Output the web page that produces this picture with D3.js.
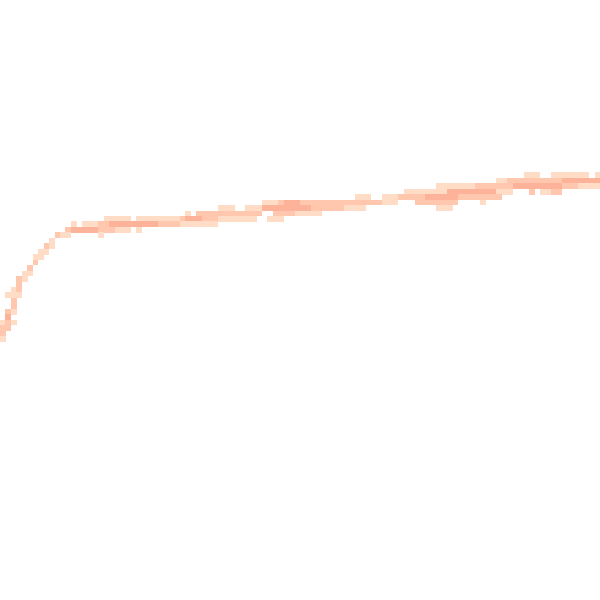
<!DOCTYPE html>
<html>
<head>
<meta charset="utf-8">
<script src="https://cdn.jsdelivr.net/npm/d3@7"></script>
<style>
  html, body { margin: 0; padding: 0; background: #fff; }
  #chart { width: 600px; height: 600px; }
</style>
</head>
<body>
<div id="chart"></div>
<script>
// grid size (cells per side)
const gridCols = 110;
const gridRows = 110;

// density levels: 1 = light, 2 = medium, 3 = dense
const levels = [1, 2, 3];
const levelColors = ["#ffdcc6", "#fec7ae", "#fcb399"];

// each entry: [column, first row, level per row going down ("0" = empty)]
const bands = [
  [0, 59, "1221"], [1, 54, "1002322"], [2, 53, "1122101"], [3, 51, "2221"],
  [4, 50, "11"], [5, 49, "21"], [6, 47, "12"], [7, 46, "11"],
  [8, 45, "21"], [9, 44, "11"], [10, 43, "2"], [11, 43, "1"],
  [12, 42, "21"], [13, 41, "13"], [14, 42, "3"], [15, 41, "13"],
  [16, 41, "13"], [17, 41, "13"], [18, 41, "221"], [19, 40, "122"],
  [20, 40, "132"], [21, 40, "131"], [22, 40, "131"], [23, 40, "131"],
  [24, 41, "3"], [25, 40, "131"], [26, 40, "13"], [27, 40, "13"],
  [28, 40, "13"], [29, 40, "12"], [30, 40, "12"], [31, 40, "12"],
  [32, 40, "12"], [33, 40, "21"], [34, 39, "131"], [35, 40, "31"],
  [36, 39, "231"], [37, 39, "221"], [38, 39, "221"], [39, 39, "221"],
  [40, 38, "121"], [41, 38, "121"], [42, 38, "121"], [43, 39, "21"],
  [44, 39, "21"], [45, 38, "121"], [46, 38, "121"], [47, 38, "12"],
  [48, 37, "13"], [49, 37, "1301"], [50, 37, "1321"], [51, 37, "2321"],
  [52, 37, "332"], [53, 37, "332"], [54, 37, "331"], [55, 37, "231"],
  [56, 37, "231"], [57, 37, "221"], [58, 37, "221"], [59, 37, "22"],
  [60, 37, "22"], [61, 37, "22"], [62, 37, "22"], [63, 37, "21"],
  [64, 37, "21"], [65, 36, "121"], [66, 36, "121"], [67, 36, "12"],
  [68, 37, "2"], [69, 37, "2"], [70, 36, "11"], [71, 36, "11"],
  [72, 36, "11"], [73, 36, "2"], [74, 35, "12"], [75, 35, "12"],
  [76, 35, "122"], [77, 35, "122"], [78, 35, "132"], [79, 35, "132"],
  [80, 34, "11321"], [81, 34, "11321"], [82, 34, "13321"], [83, 34, "1332"],
  [84, 34, "132"], [85, 34, "132"], [86, 34, "132"], [87, 34, "232"],
  [88, 34, "2321"], [89, 34, "232"], [90, 34, "232"], [91, 33, "1212"],
  [92, 33, "121"], [93, 33, "221"], [94, 33, "23"], [95, 33, "23"],
  [96, 32, "123"], [97, 32, "1232"], [98, 32, "123"], [99, 33, "231"],
  [100, 33, "231"], [101, 32, "1232"], [102, 32, "1232"], [103, 32, "132"],
  [104, 32, "132"], [105, 32, "132"], [106, 32, "131"], [107, 32, "131"],
  [108, 33, "31"], [109, 32, "131"]
];

const width = 600;
const height = 600;

// expand bands into cells
const cells = [];
bands.forEach(([col, row0, s]) => {
  s.split("").forEach((ch, i) => {
    const v = +ch;
    if (v > 0) cells.push({ col: col, row: row0 + i, level: v });
  });
});

const svg = d3
  .select("#chart")
  .append("svg")
  .attr("width", width)
  .attr("height", height);

const x = d3
  .scaleBand()
  .domain(d3.range(gridCols))
  .range([0, width]);

// rows sit a couple of pixels above the top edge
const y = d3
  .scaleBand()
  .domain(d3.range(gridRows))
  .range([-2.15, height - 2.15]);

const color = d3.scaleOrdinal().domain(levels).range(levelColors);

svg
  .append("g")
  .selectAll("rect")
  .data(cells)
  .join("rect")
  .attr("x", (d) => x(d.col))
  .attr("y", (d) => y(d.row))
  .attr("width", x.bandwidth() + 0.3)
  .attr("height", y.bandwidth() + 0.3)
  .attr("fill", (d) => color(d.level))
  .attr("shape-rendering", "crispEdges");
</script>
</body>
</html>
